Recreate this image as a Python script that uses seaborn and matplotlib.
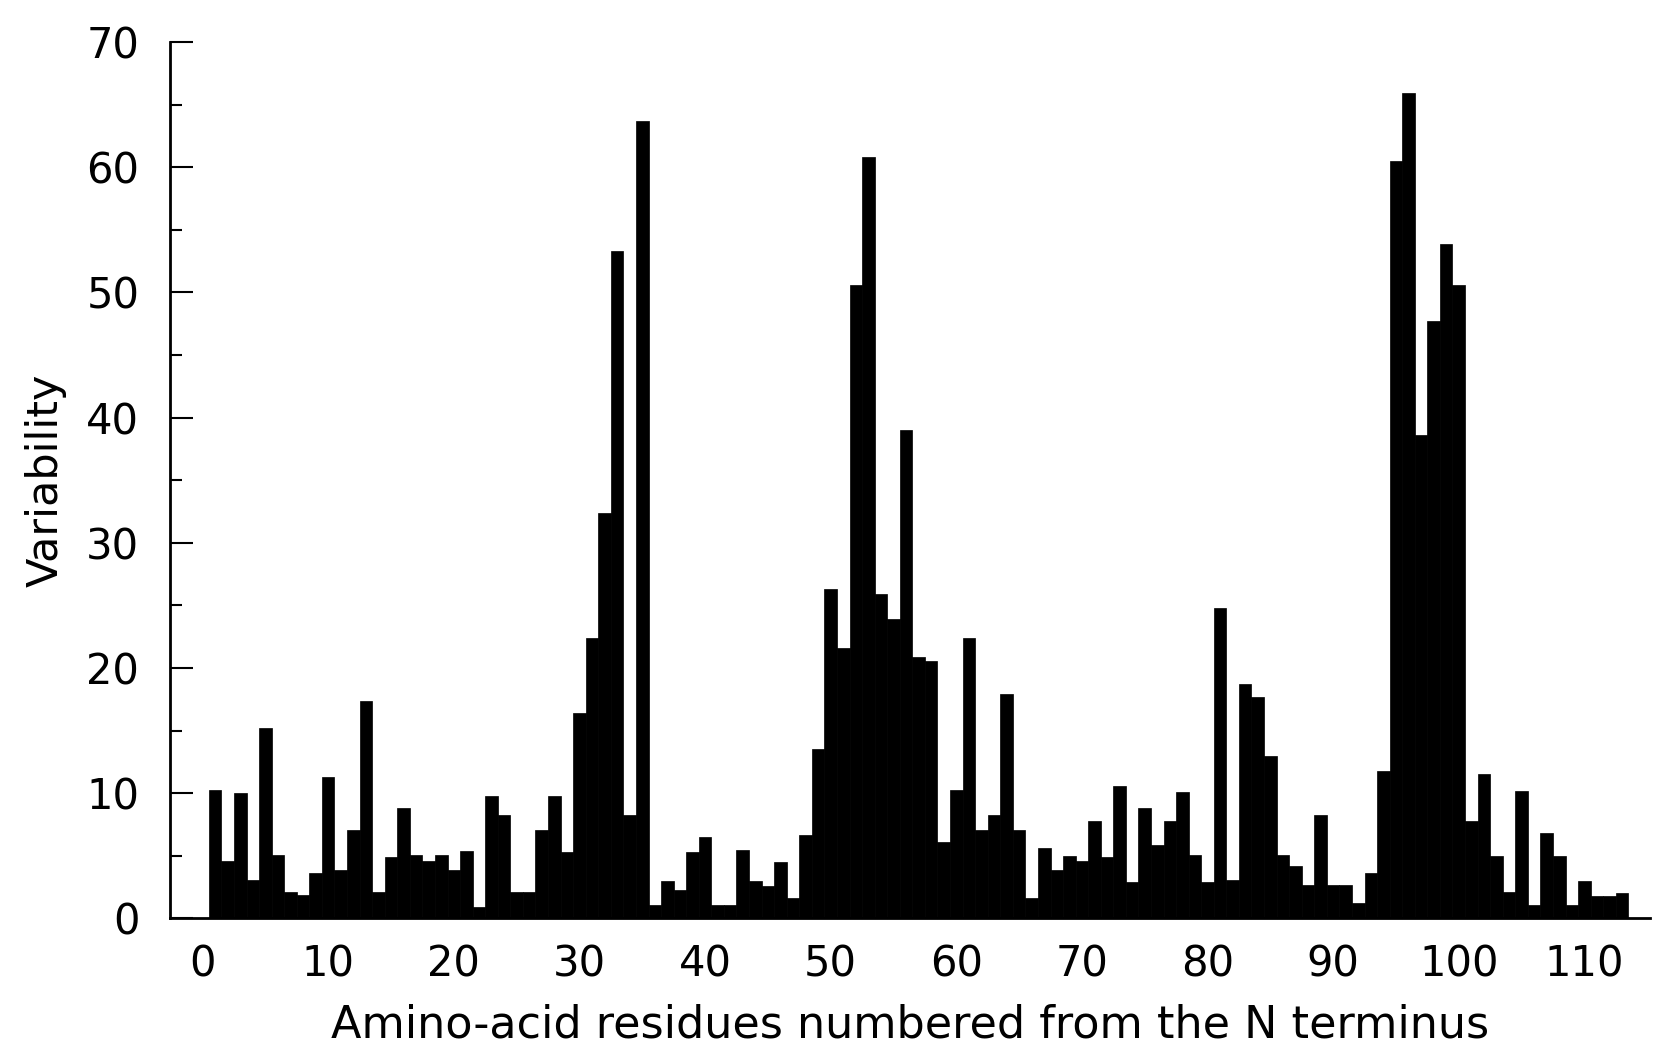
"""
Variability plot of amino-acid residues (Wu-Kabat style bar chart).
"""

import pandas as pd
import matplotlib
matplotlib.use("Agg")
import matplotlib.pyplot as plt
import seaborn as sns

# residue numbers from the N terminus
residues = list(range(1, 114))

# variability per residue
variability = [
    10.3, 4.6, 10.0, 3.1, 15.2, 5.1, 2.1, 1.9, 3.6, 11.3,
    3.9, 7.1, 17.4, 2.1, 4.9, 8.8, 5.1, 4.6, 5.1, 3.9,
    5.4, 0.9, 9.8, 8.3, 2.1, 2.1, 7.1, 9.8, 5.3, 16.4,
    22.4, 32.4, 53.3, 8.3, 63.7, 1.1, 3.0, 2.3, 5.3, 6.5,
    1.1, 1.1, 5.5, 3.0, 2.6, 4.5, 1.6, 6.7, 13.5, 26.3,
    21.6, 50.6, 60.8, 25.9, 23.9, 39.0, 20.9, 20.6, 6.1, 10.3,
    22.4, 7.1, 8.3, 17.9, 7.1, 1.6, 5.6, 3.9, 5.0, 4.6,
    7.8, 4.9, 10.6, 2.9, 8.8, 5.9, 7.8, 10.1, 5.1, 2.9,
    24.8, 3.1, 18.7, 17.7, 13.0, 5.1, 4.2, 2.7, 8.3, 2.7,
    2.7, 1.2, 3.6, 11.8, 60.5, 65.9, 38.6, 47.7, 53.9, 50.6,
    7.8, 11.5, 5.0, 2.1, 10.2, 1.1, 6.8, 5.0, 1.1, 3.0,
    1.8, 1.8, 2.0,
]

x_ticks = list(range(0, 111, 10))
y_ticks = list(range(0, 71, 10))
y_minor = list(range(5, 70, 10))

sns.set_style("ticks")
plt.rcParams['font.family'] = ['DejaVu Sans']
plt.rcParams['text.color'] = 'black'
plt.rcParams['axes.labelcolor'] = 'black'
plt.rcParams['xtick.color'] = 'black'
plt.rcParams['ytick.color'] = 'black'

df = pd.DataFrame({'residue': residues, 'variability': variability})

fig = plt.figure(figsize=(16.53, 10.48), dpi=100)
ax = fig.add_axes([0.1028, 0.1236, 0.8952, 0.8363])

sns.barplot(data=df, x='residue', y='variability', native_scale=True,
            width=1.0, color='black', saturation=1, edgecolor='black',
            linewidth=0.5, errorbar=None, ax=ax)

ax.set_xlim(-2.6, 115.2)
ax.set_ylim(0, 70)

ax.set_xticks(x_ticks)
ax.set_xticklabels([str(t) for t in x_ticks])
ax.set_xticks([0], minor=True)
ax.set_yticks(y_ticks)
ax.set_yticklabels([str(t) for t in y_ticks])
ax.set_yticks(y_minor, minor=True)

ax.tick_params(axis='x', which='major', length=0, pad=18, labelsize=30)
ax.tick_params(axis='x', which='minor', direction='in', length=16.5, width=1.5)
ax.tick_params(axis='y', which='major', direction='in', length=16.5, width=1.5,
               pad=22, labelsize=30)
ax.tick_params(axis='y', which='minor', direction='in', length=8.5, width=1.5)

for side in ['top', 'right']:
    ax.spines[side].set_visible(False)
for side in ['left', 'bottom']:
    ax.spines[side].set_linewidth(2)
    ax.spines[side].set_color('black')

ax.set_xlabel('Amino-acid residues numbered from the N terminus', fontsize=32, labelpad=13)
ax.set_ylabel('Variability', fontsize=31, labelpad=14)

fig.savefig('out.png', dpi=100)
